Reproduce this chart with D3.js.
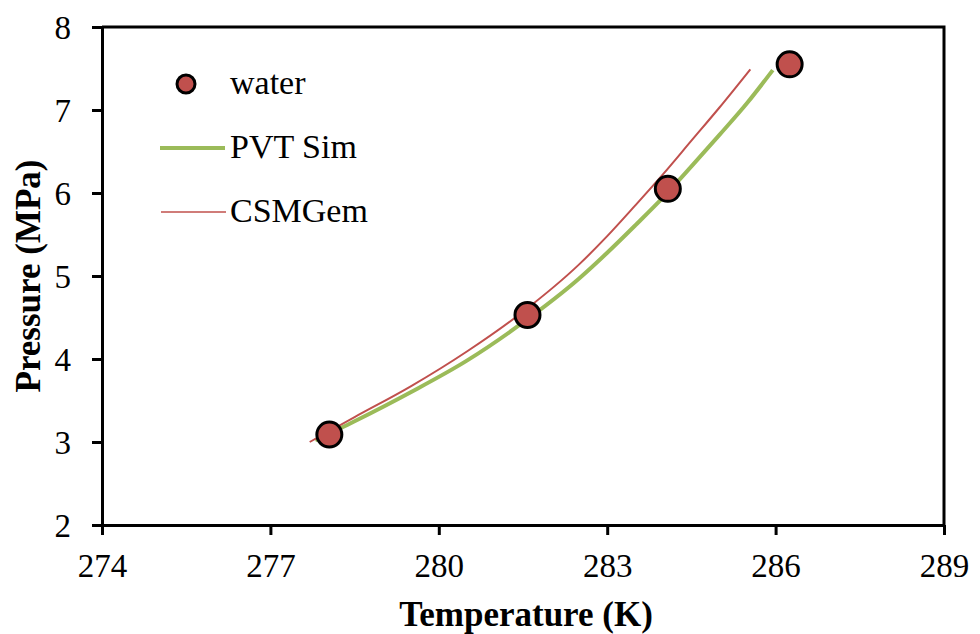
<!DOCTYPE html>
<html>
<head>
<meta charset="utf-8">
<script src="https://cdn.jsdelivr.net/npm/d3@7"></script>
<style>
	body{margin:0;background:#fff;}
</style>
</head>
<body>
<svg id="chart" width="980" height="634"></svg>
<script>
// measured points (water)
const waterT = [278.05, 281.58, 284.08, 286.25];
const waterP = [3.09, 4.53, 6.05, 7.55];

// PVT Sim curve
const pvtT = [277.8, 278.5, 279.5, 280.5, 281.5, 282.5, 283.0, 283.5, 284.0, 284.5, 285.0, 285.5, 285.95];
const pvtP = [3.02, 3.25, 3.6, 3.98, 4.44, 4.97, 5.28, 5.61, 5.95, 6.32, 6.7, 7.09, 7.48];

// CSMGem curve
const csmT = [277.7, 278.5, 279.5, 280.5, 281.5, 282.5, 283.0, 283.5, 284.0, 284.5, 285.0, 285.55];
const csmP = [3.0, 3.3, 3.67, 4.09, 4.57, 5.14, 5.48, 5.85, 6.23, 6.63, 7.03, 7.49];

const xTicks = [274, 277, 280, 283, 286, 289];
const yTicks = [2, 3, 4, 5, 6, 7, 8];

const legendItems = ["water", "PVT Sim", "CSMGem"];

const red = "#C0504D",
	green = "#9BBB59",
	serif = "'Liberation Serif'";

let svg = d3.select("#chart"),
	plotLeft = 102, plotRight = 944, plotTop = 27, plotBottom = 525;

let x = d3.scaleLinear().domain([274, 289]).range([plotLeft, plotRight]);
let y = d3.scaleLinear().domain([2, 8]).range([plotBottom, plotTop]);

// frame (top and right edges)
svg.append("path")
	.attr("d", "M" + plotLeft + "," + plotTop + "H" + plotRight + "V" + plotBottom)
	.attr("fill", "none")
	.attr("stroke", "#000")
	.attr("stroke-width", 3);

let xAxis = svg.append("g")
	.attr("transform", "translate(0," + plotBottom + ")")
	.call(d3.axisBottom(x).tickValues(xTicks).tickSize(10).tickSizeOuter(0).tickFormat(d3.format("d")));

let yAxis = svg.append("g")
	.attr("transform", "translate(" + plotLeft + ",0)")
	.call(d3.axisLeft(y).tickValues(yTicks).tickSize(10).tickSizeOuter(0).tickFormat(d3.format("d")));

[xAxis, yAxis].forEach(function(g){
	g.attr("font-family", null).attr("font-size", null);
	g.select(".domain").attr("stroke-width", 3);
	g.selectAll(".tick line").attr("stroke-width", 3);
	g.selectAll(".tick text")
		.style("font-family", serif)
		.style("font-size", "33px")
		.attr("fill", "#000");
});
xAxis.selectAll(".tick text").attr("y", 29).attr("dy", "0.71em");
yAxis.selectAll(".tick text").attr("x", -31).attr("dy", "0.35em");

// axis titles
svg.append("text")
	.attr("x", (plotLeft + plotRight) / 2 + 3)
	.attr("y", 626)
	.attr("text-anchor", "middle")
	.style("font-family", serif)
	.style("font-size", "35px")
	.style("font-weight", "bold")
	.text("Temperature (K)");

svg.append("text")
	.attr("transform", "translate(40," + ((plotTop + plotBottom) / 2) + ") rotate(-90)")
	.attr("text-anchor", "middle")
	.style("font-family", serif)
	.style("font-size", "35px")
	.style("font-weight", "bold")
	.text("Pressure (MPa)");

// curves
let line = d3.line()
	.x(function(d){ return x(d[0]); })
	.y(function(d){ return y(d[1]); })
	.curve(d3.curveMonotoneX);

svg.append("path")
	.datum(d3.zip(pvtT, pvtP))
	.attr("d", line)
	.attr("fill", "none")
	.attr("stroke", green)
	.attr("stroke-width", 4);

svg.append("path")
	.datum(d3.zip(csmT, csmP))
	.attr("d", line)
	.attr("fill", "none")
	.attr("stroke", red)
	.attr("stroke-width", 2);

svg.selectAll(".water")
	.data(d3.zip(waterT, waterP))
	.enter().append("circle")
	.attr("class", "water")
	.attr("cx", function(d){ return x(d[0]); })
	.attr("cy", function(d){ return y(d[1]); })
	.attr("r", 12.5)
	.attr("fill", red)
	.attr("stroke", "#000")
	.attr("stroke-width", 3);

// legend
let legend = svg.append("g").attr("transform", "translate(160,84)");
let rowGap = 64;

legend.append("circle")
	.attr("cx", 26).attr("cy", 0).attr("r", 9)
	.attr("fill", red).attr("stroke", "#000").attr("stroke-width", 3);
legend.append("line")
	.attr("x1", 0).attr("x2", 65).attr("y1", rowGap).attr("y2", rowGap)
	.attr("stroke", green).attr("stroke-width", 4);
legend.append("line")
	.attr("x1", 1).attr("x2", 66).attr("y1", rowGap * 2).attr("y2", rowGap * 2)
	.attr("stroke", red).attr("stroke-width", 1.5);

legend.selectAll(".lbl")
	.data(legendItems)
	.enter().append("text")
	.attr("class", "lbl")
	.attr("x", 70)
	.attr("y", function(d, i){ return i * rowGap + 10; })
	.style("font-family", serif)
	.style("font-size", "34px")
	.text(function(d){ return d; });
</script>
</body>
</html>
